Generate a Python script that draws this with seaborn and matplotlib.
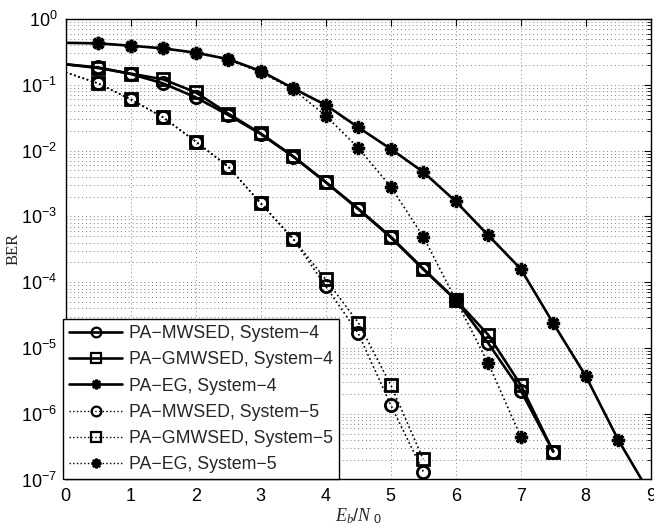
import numpy as np
import pandas as pd
import matplotlib
matplotlib.use("Agg")
import matplotlib.pyplot as plt
from matplotlib.lines import Line2D
from matplotlib.ticker import LogLocator, NullFormatter, FixedLocator
import seaborn as sns

# ---------------- data ----------------
snr4 = [0.5, 1.0, 1.5, 2.0, 2.5, 3.0, 3.5, 4.0, 4.5, 5.0, 5.5, 6.0, 6.5, 7.0, 7.5]
mwsed4 = [0.184, 0.146, 0.105, 0.0645, 0.0348, 0.0179, 0.00809, 0.00330, 0.00129,
          4.8e-4, 1.57e-4, 5.37e-5, 1.18e-5, 2.25e-6, 2.66e-7]
gmwsed4 = [0.180, 0.148, 0.121, 0.0769, 0.0365, 0.0182, 0.0082, 0.00333, 0.00131,
           4.9e-4, 1.6e-4, 5.4e-5, 1.58e-5, 2.74e-6, 2.66e-7]
snr_eg4 = [0.5, 1.0, 1.5, 2.0, 2.5, 3.0, 3.5, 4.0, 4.5, 5.0, 5.5, 6.0, 6.5, 7.0, 7.5, 8.0, 8.5]
eg4 = [0.427, 0.393, 0.358, 0.308, 0.246, 0.162, 0.0884, 0.0493, 0.0226, 0.0106,
       0.00473, 0.00169, 5.16e-4, 1.59e-4, 2.37e-5, 3.75e-6, 4.0e-7]

snr5 = [0.5, 1.0, 1.5, 2.0, 2.5, 3.0, 3.5, 4.0, 4.5, 5.0, 5.5]
mwsed5 = [0.105, 0.0601, 0.032, 0.0137, 0.0057, 0.00158, 4.54e-4, 8.7e-5, 1.67e-5, 1.36e-6, 1.32e-7]
gmwsed5 = [0.105, 0.0601, 0.032, 0.0137, 0.0057, 0.00158, 4.54e-4, 1.1e-4, 2.43e-5, 2.74e-6, 2.03e-7]
snr_eg5 = [0.5, 1.0, 1.5, 2.0, 2.5, 3.0, 3.5, 4.0, 4.5, 5.0, 5.5, 6.0, 6.5, 7.0]
eg5 = [0.427, 0.393, 0.358, 0.305, 0.24, 0.155, 0.085, 0.034, 0.011, 0.00283,
       4.92e-4, 5.4e-5, 5.85e-6, 4.49e-7]

# curve start (x = 0) and tail values of the plotted lines
start_snr = 0.0
start_mwsed4 = 0.205
start_eg4 = 0.435
start_s5 = 0.155
tail_snr_eg4 = 9.0
tail_eg4 = 5.8e-8

labels = ["PA\u2212MWSED, System\u22124", "PA\u2212GMWSED, System\u22124", "PA\u2212EG, System\u22124",
          "PA\u2212MWSED, System\u22125", "PA\u2212GMWSED, System\u22125", "PA\u2212EG, System\u22125"]
xticks = [0, 1, 2, 3, 4, 5, 6, 7, 8, 9]

# ---------------- style ----------------
sns.set_style("white")
plt.rcParams["font.family"] = ["Liberation Sans", "DejaVu Sans"]
plt.rcParams["mathtext.fontset"] = "custom"
plt.rcParams["mathtext.rm"] = "Liberation Sans"
plt.rcParams["mathtext.it"] = "Liberation Serif:italic"

fig = plt.figure(figsize=(6.54, 5.29), dpi=100)
ax = fig.add_axes([0.1005, 0.0936, 0.8945, 0.8704])

ASTER = (8, 2, 0)
series = [
    ("mw4", [start_snr] + snr4, [start_mwsed4] + mwsed4, snr4, mwsed4, "-", "o"),
    ("gm4", [start_snr] + snr4, [start_mwsed4] + gmwsed4, snr4, gmwsed4, "-", "s"),
    ("eg4", [start_snr] + snr_eg4 + [tail_snr_eg4], [start_eg4] + eg4 + [tail_eg4], snr_eg4, eg4, "-", ASTER),
    ("mw5", [start_snr] + snr5, [start_s5] + mwsed5, snr5, mwsed5, ":", "o"),
    ("gm5", [start_snr] + snr5, [start_s5] + gmwsed5, snr5, gmwsed5, ":", "s"),
    ("eg5", [start_snr] + snr_eg5, [start_eg4] + eg5, snr_eg5, eg5, ":", ASTER),
]

handles = []
for (name, lx, ly, mx, my, ls, mk), lab in zip(series, labels):
    lw = 1.9 if ls == "-" else 1.2
    dfl = pd.DataFrame({"x": lx, "y": ly})
    sns.lineplot(data=dfl, x="x", y="y", ax=ax, color="black", linewidth=lw,
                 linestyle=ls, sort=False, estimator=None)
    dfm = pd.DataFrame({"x": mx, "y": my})
    is_star = isinstance(mk, tuple)
    sns.lineplot(data=dfm, x="x", y="y", ax=ax, color="black", linestyle="",
                 marker=mk, markersize=9.5 if is_star else 8.8,
                 markerfacecolor="black" if is_star else "none",
                 markeredgecolor="black", markeredgewidth=2.4 if is_star else 2.0,
                 sort=False, estimator=None)
    handles.append(Line2D([], [], color="black", linewidth=lw if ls == "-" else 1.0,
                          linestyle=ls, marker=mk, markersize=7,
                          markerfacecolor="black" if is_star else "none",
                          markeredgecolor="black", markeredgewidth=1.8 if is_star else 1.6,
                          label=lab))

ax.set_yscale("log")
ax.set_xlim(0, 9)
ax.set_ylim(1e-7, 1)
ax.xaxis.set_major_locator(FixedLocator(xticks))
ax.yaxis.set_major_locator(LogLocator(base=10, numticks=20))
ax.yaxis.set_minor_locator(LogLocator(base=10, subs=np.arange(2, 10), numticks=100))
ax.yaxis.set_minor_formatter(NullFormatter())

ax.grid(True, which="major", axis="both", linestyle=(0, (1, 3)), color="#808080", linewidth=0.7)
ax.grid(True, which="minor", axis="y", linestyle=(0, (1, 3)), color="#808080", linewidth=0.7)
ax.set_axisbelow(True)

ax.tick_params(axis="both", which="both", direction="in", top=True, right=True,
               labelsize=13, colors="black")
ax.tick_params(axis="both", which="major", length=5, width=0.8, pad=6)
ax.tick_params(axis="y", which="minor", length=3, width=0.6)
for s in ax.spines.values():
    s.set_color("black")
    s.set_linewidth(1.0)

ax.set_xlabel(r"$E_b/N_{\ 0}$", fontsize=13, labelpad=1)
ax.set_ylabel("BER", fontsize=12, family="Liberation Serif", labelpad=0)

leg = ax.legend(handles=handles, loc="lower left", bbox_to_anchor=(-0.005, 0.0),
                borderaxespad=0.0, fontsize=12.8, frameon=True, fancybox=False,
                framealpha=1.0, edgecolor="black", handlelength=3.0,
                handletextpad=0.35, labelspacing=0.52, borderpad=0.35)
leg.get_frame().set_linewidth(1.0)

fig.savefig("out.png", dpi=100)
